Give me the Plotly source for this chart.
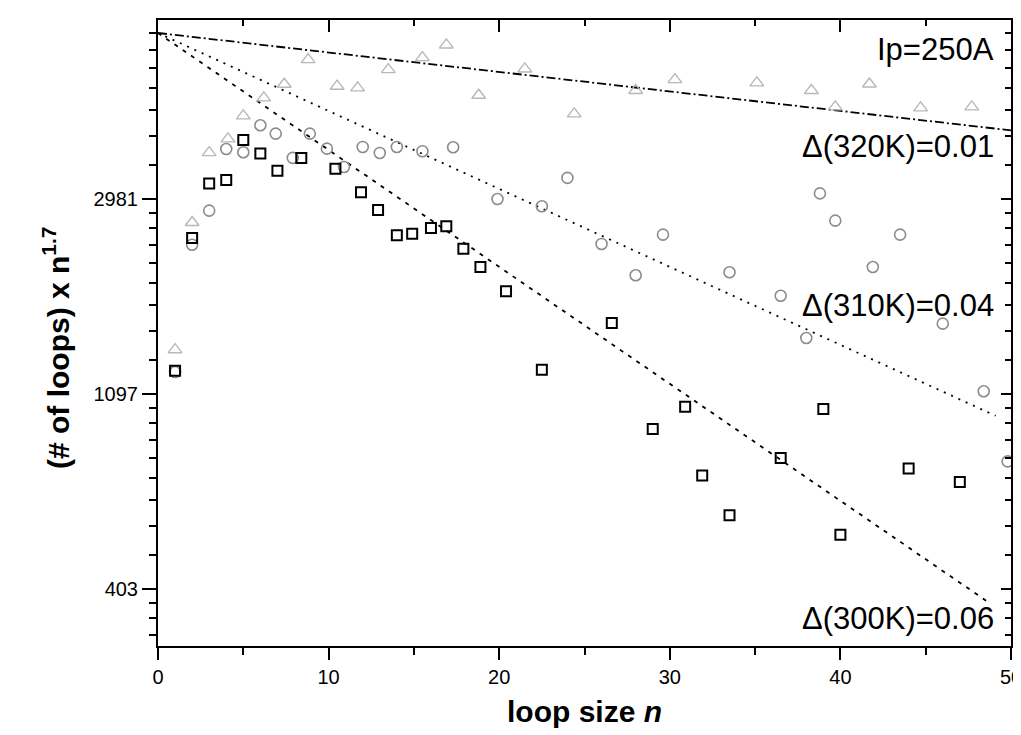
import math
import plotly.graph_objects as go

# ---------------- data ----------------
n_300 = [1, 2, 3, 4, 5, 6, 7, 8.4, 10.4, 11.9, 12.9, 14, 14.9, 16, 16.9, 17.9, 18.9,
         20.4, 22.5, 26.6, 29, 30.9, 31.9, 33.5, 36.5, 39, 40, 44, 47]
y_300 = [1234, 2437, 3223, 3281, 4024, 3759, 3441, 3673, 3475, 3082, 2813, 2472, 2490,
         2565, 2588, 2305, 2100, 1854, 1240, 1576, 915, 1026, 721, 588, 788, 1014, 532,
         747, 697]

n_310 = [1, 2, 3, 4, 5, 6, 6.9, 7.9, 8.9, 9.9, 10.9, 12, 13, 14, 15.5, 17.3, 19.9, 22.5,
         24, 26, 28, 29.6, 33.5, 36.5, 38, 38.8, 39.7, 41.9, 43.5, 46, 48.4, 49.8]
y_310 = [1225, 2354, 2803, 3846, 3782, 4343, 4160, 3673, 4160, 3852, 3507, 3886, 3768,
         3886, 3802, 3880, 2976, 2867, 3315, 2363, 2012, 2478, 2044, 1812, 1459, 3062,
         2663, 2100, 2478, 1570, 1110, 775]

n_320 = [1, 2, 3, 4.1, 5, 6.2, 7.4, 8.8, 10.5, 11.7, 13.5, 15.5, 16.9, 18.8, 21.5, 24.4,
         28, 30.3, 35.1, 38.3, 39.7, 41.7, 44.7, 47.7]
y_320 = [1374, 2638, 3774, 4049, 4556, 4997, 5360, 6080, 5306, 5259, 5777, 6143, 6556,
         5066, 5797, 4603, 5192, 5488, 5396, 5192, 4771, 5367, 4747, 4771]

# fitted exponential lines (end points)
fit320_n = [0, 50]
fit320_y = [6970, 4230]
fit310_n = [0, 49.1]
fit310_y = [6970, 979]
fit300_n = [0, 48.6]
fit300_y = [6970, 378]

# y tick values / labels (natural-log decades)
y_tickvals = [403.4288, 1096.633, 2980.958]
y_ticktext = ["403", "1097", "2981"]
x_tickvals = [0, 10, 20, 30, 40, 50]

labels = ["Ip=250A", "\u0394(320K)=0.01", "\u0394(310K)=0.04", "\u0394(300K)=0.06"]
y_title = "<b>(# of loops) x n<sup>1.7</sup></b>"
x_title = "<b>loop size <i>n</i></b>"

# ---------------- axis helpers ----------------
y_lo, y_hi = 5.706, 8.916          # natural-log range of the axis
yrange = [y_lo / math.log(10), y_hi / math.log(10)]
decades = [math.exp(k) for k in range(5, 10)]
y_minor = []
for a, b in zip(decades[:-1], decades[1:]):
    for j in range(1, 9):
        v = a + j * (b - a) / 9
        if y_lo < math.log(v) < y_hi:
            y_minor.append(v)
x_minor = [5, 15, 25, 35, 45]

FONT = "Liberation Sans, Arial, sans-serif"
L, R, T, B = 150, 18, 12, 97
W, H = 1021, 735
pw, ph = W - L - R, H - T - B

fig = go.Figure()

line_style = dict(color="black", width=1.8)
fig.add_trace(go.Scatter(x=fit320_n, y=fit320_y, mode="lines",
                         line=dict(line_style, dash="9px,3px,2px,3px"), showlegend=False))
fig.add_trace(go.Scatter(x=fit310_n, y=fit310_y, mode="lines",
                         line=dict(line_style, dash="2px,6px"), showlegend=False))
fig.add_trace(go.Scatter(x=fit300_n, y=fit300_y, mode="lines",
                         line=dict(line_style, dash="4px,6px"), showlegend=False))

fig.add_trace(go.Scatter(x=n_320, y=y_320, mode="markers", showlegend=False,
                         marker=dict(symbol="triangle-up-open", size=12,
                                     color="#b8b8b8", line=dict(width=1.4, color="#b8b8b8"))))
fig.add_trace(go.Scatter(x=n_310, y=y_310, mode="markers", showlegend=False,
                         marker=dict(symbol="circle-open", size=11,
                                     color="#8c8c8c", line=dict(width=1.6, color="#8c8c8c"))))
fig.add_trace(go.Scatter(x=n_300, y=y_300, mode="markers", showlegend=False,
                         marker=dict(symbol="square-open", size=10,
                                     color="black", line=dict(width=2, color="black"))))
# dummy trace so the mirrored axes are drawn
fig.add_trace(go.Scatter(x=[None], y=[None], xaxis="x2", yaxis="y2", showlegend=False))

fig.update_layout(
    width=W, height=H,
    margin=dict(l=L, r=R, t=T, b=B, autoexpand=False),
    paper_bgcolor="white", plot_bgcolor="white",
    font=dict(family=FONT, color="black"),
    xaxis=dict(range=[0, 50], tickvals=x_tickvals, ticks="outside", ticklen=12,
               tickwidth=2, tickcolor="black", showline=True, linecolor="black",
               linewidth=2, showgrid=False, zeroline=False, automargin=False,
               tickfont=dict(size=20, family=FONT),
               minor=dict(tickvals=x_minor, ticks="outside", ticklen=7, tickwidth=2,
                          tickcolor="black", showgrid=False),
               title=dict(text=x_title, font=dict(size=30, family=FONT), standoff=14)),
    yaxis=dict(type="log", range=yrange, tickvals=y_tickvals, ticktext=y_ticktext,
               ticks="outside", ticklen=14, tickwidth=2, tickcolor="black",
               showline=True, linecolor="black", linewidth=2, showgrid=False,
               zeroline=False, automargin=False, tickfont=dict(size=20, family=FONT),
               minor=dict(tickvals=y_minor, ticks="outside", ticklen=7, tickwidth=2,
                          tickcolor="black", showgrid=False)),
    xaxis2=dict(overlaying="x", side="top", range=[0, 50], tickvals=x_tickvals,
                ticks="inside", ticklen=12, tickwidth=2, tickcolor="black",
                showticklabels=False, showline=True, linecolor="black", linewidth=2,
                showgrid=False, zeroline=False, automargin=False,
                minor=dict(tickvals=x_minor, ticks="inside", ticklen=6, tickwidth=2,
                           tickcolor="black", showgrid=False)),
    yaxis2=dict(overlaying="y", side="right", type="log", range=yrange,
                tickvals=y_tickvals, ticks="inside", ticklen=10, tickwidth=2,
                tickcolor="black", showticklabels=False, showline=True,
                linecolor="black", linewidth=2, showgrid=False, zeroline=False,
                automargin=False,
                minor=dict(tickvals=y_minor, ticks="inside", ticklen=6, tickwidth=2,
                           tickcolor="black", showgrid=False)),
)

# y-axis title as rotated annotation (sits slightly below the plot centre)
fig.add_annotation(text=y_title, xref="paper", yref="paper",
                   x=(48 - L) / pw, y=1 - (340 - T) / ph, xanchor="center",
                   yanchor="middle", textangle=-90, showarrow=False,
                   font=dict(size=30, family=FONT, color="black"))

ann_y = [42, 138, 297, 610]   # pixel centres from top of figure
for txt, py in zip(labels, ann_y):
    fig.add_annotation(text=txt, xref="paper", yref="paper", x=(988 - L) / pw,
                       y=1 - (py - T) / ph, xanchor="right", yanchor="middle",
                       showarrow=False, font=dict(size=31, family=FONT, color="black"))

fig.write_html("out.html")
